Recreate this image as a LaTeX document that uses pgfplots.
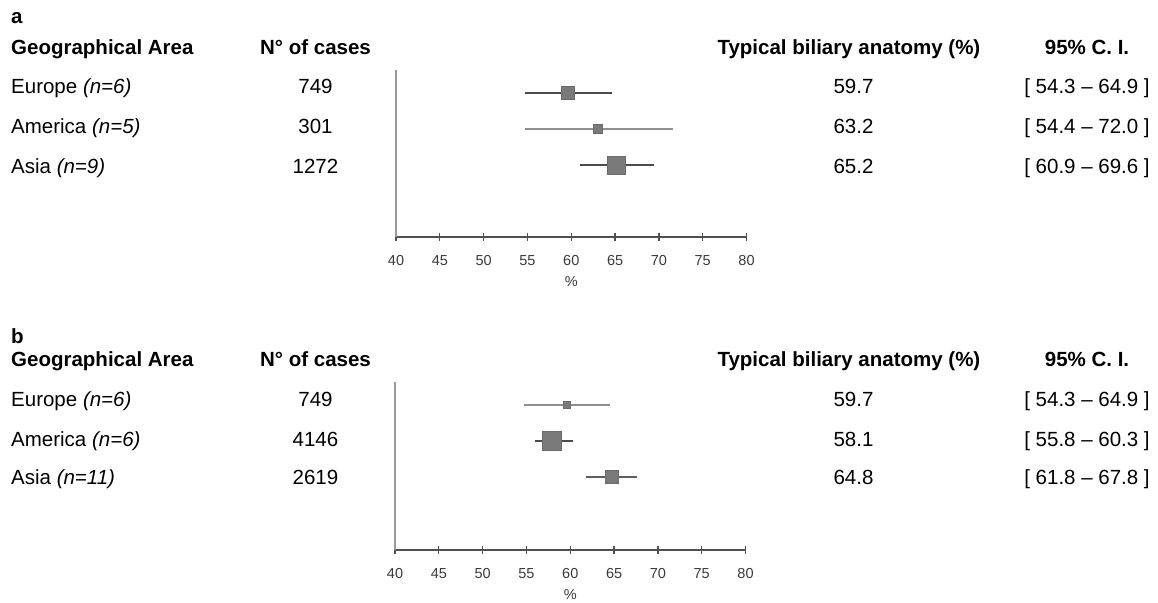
\documentclass[border=0pt]{standalone}
\usepackage{fontspec}
\setmainfont{Liberation Sans}
\usepackage{pgfplots}
\pgfplotsset{compat=1.18}
\definecolor{mk}{HTML}{7A7A7A}
\definecolor{mkb}{HTML}{6A6A6A}
\definecolor{cidark}{HTML}{4A4A4A}
\definecolor{cilight}{HTML}{8E8E8E}
\definecolor{cimid}{HTML}{5E5E5E}
\definecolor{axgray}{HTML}{505050}
\definecolor{ylgray}{HTML}{9A9A9A}
\definecolor{tickgray}{HTML}{3A3A3A}
\newcommand{\bigf}{\fontsize{20.5}{24}\selectfont}
\pgfplotsset{
  forest/.style={
    scale only axis, anchor=south west,
    width=350.5pt,
    xmin=40, xmax=80,
    axis x line=bottom, axis y line=left,
    x axis line style={-, draw=axgray, line width=1.3pt},
    y axis line style={-, draw=ylgray, line width=1.6pt},
    xtick={40,45,...,80}, ytick=\empty,
    tick align=center, major tick length=7.5pt,
    xtick style={draw=axgray, line width=1.3pt},
    /pgf/number format/assume math mode=true,
    xticklabel style={font=\fontsize{14.5}{15}\selectfont, text=tickgray, anchor=center, yshift=-19.5pt, inner sep=0pt},
    xlabel={\%},
    xlabel style={font=\fontsize{14.5}{15}\selectfont, text=tickgray, at={(axis description cs:0.5,0)}, anchor=center, yshift=-45pt, inner sep=0pt},
    clip=false,
  },
  ci/.style={line width=1.8pt},
  sq/.style={only marks, mark=square*, mark options={fill=mk, draw=mkb, line width=0.5pt}},
}
\begin{document}
\begin{tikzpicture}
\useasboundingbox (0pt,0pt) rectangle (1158pt,602pt);
% ---------- panel a ----------
\node[anchor=base west, inner sep=0pt] at (11pt,578pt) {\bigf\bfseries a};
\node[anchor=base west, inner sep=0pt] at (11pt,547.7pt) {\bigf\bfseries Geographical Area};
\node[anchor=base, inner sep=0pt] at (315.5pt,547.7pt) {\bigf\bfseries N° of cases};
\node[anchor=base east, inner sep=0pt] at (980.5pt,547.7pt) {\bigf\bfseries Typical biliary anatomy (\%)};
\node[anchor=base, inner sep=0pt] at (1087pt,547.7pt) {\bigf\bfseries 95\% C. I.};
\node[anchor=base west, inner sep=0pt] at (11pt,508pt) {\bigf Europe \textit{(n=6)}};
\node[anchor=base west, inner sep=0pt] at (11pt,468.7pt) {\bigf America \textit{(n=5)}};
\node[anchor=base west, inner sep=0pt] at (11pt,428pt) {\bigf Asia \textit{(n=9)}};
\node[anchor=base, inner sep=0pt] at (315.5pt,508pt) {\bigf 749};
\node[anchor=base, inner sep=0pt] at (315.5pt,468.7pt) {\bigf 301};
\node[anchor=base, inner sep=0pt] at (315.5pt,428pt) {\bigf 1272};
\node[anchor=base, inner sep=0pt] at (853.5pt,508pt) {\bigf 59.7};
\node[anchor=base, inner sep=0pt] at (853.5pt,468.7pt) {\bigf 63.2};
\node[anchor=base, inner sep=0pt] at (853.5pt,428pt) {\bigf 65.2};
\node[anchor=base, inner sep=0pt] at (1087pt,508pt) {\bigf [\ 54.3 – 64.9\ ]};
\node[anchor=base, inner sep=0pt] at (1087pt,468.7pt) {\bigf [\ 54.4 – 72.0\ ]};
\node[anchor=base, inner sep=0pt] at (1087pt,428pt) {\bigf [\ 60.9 – 69.6\ ]};
\begin{axis}[forest, at={(396pt,365pt)}, height=167pt, ymin=-0.99, ymax=3.63]
\addplot[ci, cidark] coordinates {(54.72,3) (64.61,3)};
\addplot[ci, cilight] coordinates {(54.72,2) (71.65,2)};
\addplot[ci, cidark] coordinates {(61.0,1) (69.4,1)};
\addplot[sq, mark size=6.5pt] coordinates {(59.57,3)};
\addplot[sq, mark size=4.3pt] coordinates {(63.0,2)};
\addplot[sq, mark size=9.3pt] coordinates {(65.13,1)};
\end{axis}
% ---------- panel b ----------
\node[anchor=base west, inner sep=0pt] at (11pt,258.7pt) {\bigf\bfseries b};
\node[anchor=base west, inner sep=0pt] at (11pt,235.3pt) {\bigf\bfseries Geographical Area};
\node[anchor=base, inner sep=0pt] at (315.5pt,235.3pt) {\bigf\bfseries N° of cases};
\node[anchor=base east, inner sep=0pt] at (980.5pt,235.3pt) {\bigf\bfseries Typical biliary anatomy (\%)};
\node[anchor=base, inner sep=0pt] at (1087pt,235.3pt) {\bigf\bfseries 95\% C. I.};
\node[anchor=base west, inner sep=0pt] at (11pt,195.3pt) {\bigf Europe \textit{(n=6)}};
\node[anchor=base west, inner sep=0pt] at (11pt,155.3pt) {\bigf America \textit{(n=6)}};
\node[anchor=base west, inner sep=0pt] at (11pt,117pt) {\bigf Asia \textit{(n=11)}};
\node[anchor=base, inner sep=0pt] at (315.5pt,195.3pt) {\bigf 749};
\node[anchor=base, inner sep=0pt] at (315.5pt,155.3pt) {\bigf 4146};
\node[anchor=base, inner sep=0pt] at (315.5pt,117pt) {\bigf 2619};
\node[anchor=base, inner sep=0pt] at (853.5pt,195.3pt) {\bigf 59.7};
\node[anchor=base, inner sep=0pt] at (853.5pt,155.3pt) {\bigf 58.1};
\node[anchor=base, inner sep=0pt] at (853.5pt,117pt) {\bigf 64.8};
\node[anchor=base, inner sep=0pt] at (1087pt,195.3pt) {\bigf [\ 54.3 – 64.9\ ]};
\node[anchor=base, inner sep=0pt] at (1087pt,155.3pt) {\bigf [\ 55.8 – 60.3\ ]};
\node[anchor=base, inner sep=0pt] at (1087pt,117pt) {\bigf [\ 61.8 – 67.8\ ]};
\begin{axis}[forest, at={(395pt,52pt)}, height=168.3pt, ymin=-1.04, ymax=3.65]
\addplot[ci, cilight] coordinates {(54.70,3) (64.58,3)};
\addplot[ci, cidark] coordinates {(55.95,2) (60.32,2)};
\addplot[ci, cimid] coordinates {(61.84,1) (67.65,1)};
\addplot[sq, mark size=3.6pt] coordinates {(59.60,3)};
\addplot[sq, mark size=9.5pt] coordinates {(57.93,2)};
\addplot[sq, mark size=6.4pt] coordinates {(64.69,1)};
\end{axis}
\end{tikzpicture}
\end{document}
